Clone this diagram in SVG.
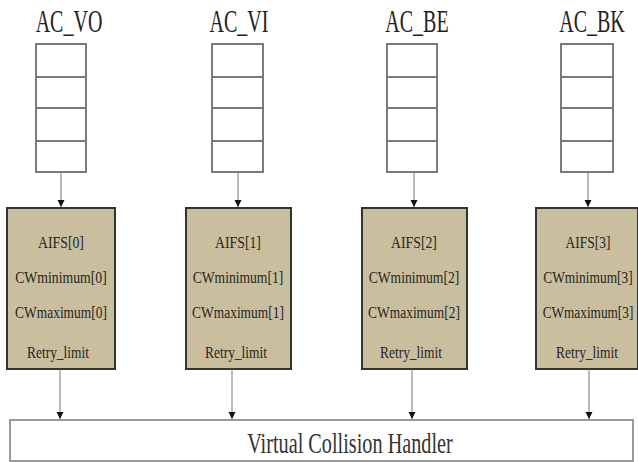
<svg xmlns="http://www.w3.org/2000/svg" width="638" height="462" viewBox="0 0 638 462">
<style>
.title{font-family:"Liberation Serif","DejaVu Serif",serif;font-size:32px;fill:#222;text-anchor:middle}
.q{fill:#fff;stroke:#7a7a7a;stroke-width:2}
.qd{stroke:#7a7a7a;stroke-width:2}
.box{fill:#c9bf9f;stroke:#333;stroke-width:2}
.t{font-family:"Liberation Serif","DejaVu Serif",serif;font-size:16px;fill:#26251e;text-anchor:middle}
.conn{stroke:#777;stroke-width:1;fill:none}
.vch{fill:#fff;stroke:#9a9a9a;stroke-width:2}
.vt{font-family:"Liberation Serif","DejaVu Serif",serif;font-size:30px;fill:#333;text-anchor:middle}
</style>
<defs>
<marker id="arr" markerWidth="8" markerHeight="8" refX="7" refY="4" orient="auto" markerUnits="userSpaceOnUse">
<path d="M0,0.5 L7,4 L0,7.5 Z" fill="#111"/>
</marker>
</defs>
<rect width="638" height="462" fill="#fff"/>

<g id="queue-vo">
<text class="title" transform="translate(69,32) scale(0.625,1)">AC_VO</text>
<rect class="q" x="36" y="44" width="50" height="128"/>
<line class="qd" x1="36" y1="77" x2="86" y2="77"/><line class="qd" x1="36" y1="108" x2="86" y2="108"/><line class="qd" x1="36" y1="141" x2="86" y2="141"/>
</g>
<g id="queue-vi">
<text class="title" transform="translate(239,32) scale(0.625,1)">AC_VI</text>
<rect class="q" x="212" y="44" width="51" height="128"/>
<line class="qd" x1="212" y1="77" x2="263" y2="77"/><line class="qd" x1="212" y1="108" x2="263" y2="108"/><line class="qd" x1="212" y1="141" x2="263" y2="141"/>
</g>
<g id="queue-be">
<text class="title" transform="translate(417,32) scale(0.625,1)">AC_BE</text>
<rect class="q" x="387" y="44" width="50" height="128"/>
<line class="qd" x1="387" y1="77" x2="437" y2="77"/><line class="qd" x1="387" y1="108" x2="437" y2="108"/><line class="qd" x1="387" y1="141" x2="437" y2="141"/>
</g>
<g id="queue-bk">
<text class="title" transform="translate(592,32) scale(0.625,1)">AC_BK</text>
<rect class="q" x="561" y="44" width="52" height="128"/>
<line class="qd" x1="561" y1="77" x2="613" y2="77"/><line class="qd" x1="561" y1="108" x2="613" y2="108"/><line class="qd" x1="561" y1="141" x2="613" y2="141"/>
</g>

<g id="params-0">
<rect class="box" x="7" y="208" width="108" height="161"/>
<text class="t" transform="translate(61,248) scale(0.86,1)">AIFS[0]</text>
<text class="t" transform="translate(61,283) scale(0.86,1)">CWminimum[0]</text>
<text class="t" transform="translate(61,318) scale(0.84,1)">CWmaximum[0]</text>
<text class="t" transform="translate(58,358) scale(0.84,1)">Retry_limit</text>
</g>
<g id="params-1">
<rect class="box" x="186" y="208" width="105" height="161"/>
<text class="t" transform="translate(238,248) scale(0.86,1)">AIFS[1]</text>
<text class="t" transform="translate(238,283) scale(0.85,1)">CWminimum[1]</text>
<text class="t" transform="translate(238,318) scale(0.84,1)">CWmaximum[1]</text>
<text class="t" transform="translate(236,358) scale(0.84,1)">Retry_limit</text>
</g>
<g id="params-2">
<rect class="box" x="362" y="208" width="105" height="161"/>
<text class="t" transform="translate(414,248) scale(0.86,1)">AIFS[2]</text>
<text class="t" transform="translate(414,283) scale(0.85,1)">CWminimum[2]</text>
<text class="t" transform="translate(414,318) scale(0.84,1)">CWmaximum[2]</text>
<text class="t" transform="translate(411,358) scale(0.84,1)">Retry_limit</text>
</g>
<g id="params-3">
<rect class="box" x="536" y="208" width="102" height="161"/>
<text class="t" transform="translate(588,248) scale(0.84,1)">AIFS[3]</text>
<text class="t" transform="translate(588,283) scale(0.84,1)">CWminimum[3]</text>
<text class="t" transform="translate(588,318) scale(0.83,1)">CWmaximum[3]</text>
<text class="t" transform="translate(587,358) scale(0.84,1)">Retry_limit</text>
</g>

<g id="handler">
<rect class="vch" x="10" y="420" width="623" height="41"/>
<text class="vt" transform="translate(350,453) scale(0.675,1)">Virtual Collision Handler</text>
</g>

<g id="connectors">
<line class="conn" x1="61" y1="172" x2="61" y2="207" marker-end="url(#arr)"/>
<line class="conn" x1="238" y1="172" x2="238" y2="207" marker-end="url(#arr)"/>
<line class="conn" x1="414" y1="172" x2="414" y2="207" marker-end="url(#arr)"/>
<line class="conn" x1="588" y1="172" x2="588" y2="207" marker-end="url(#arr)"/>
<line class="conn" x1="60" y1="369" x2="60" y2="419" marker-end="url(#arr)"/>
<line class="conn" x1="232" y1="369" x2="232" y2="419" marker-end="url(#arr)"/>
<line class="conn" x1="412" y1="369" x2="412" y2="419" marker-end="url(#arr)"/>
<line class="conn" x1="589" y1="369" x2="589" y2="419" marker-end="url(#arr)"/>
</g>
</svg>
